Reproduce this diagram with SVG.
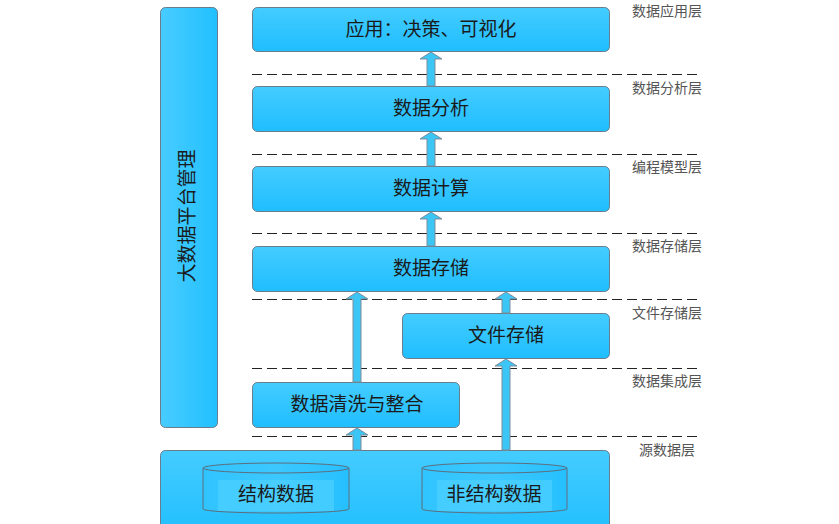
<svg xmlns="http://www.w3.org/2000/svg" width="839" height="524" viewBox="0 0 839 524">
<defs>
<linearGradient id="gv" x1="0" y1="0" x2="0" y2="1">
<stop offset="0" stop-color="#44CCFF"/>
<stop offset="1" stop-color="#1FBEFF"/>
</linearGradient>
<linearGradient id="gh" x1="0" y1="0" x2="1" y2="0">
<stop offset="0" stop-color="#48CCFF"/>
<stop offset="1" stop-color="#22C0FF"/>
</linearGradient>
<linearGradient id="gc" x1="0" y1="0" x2="1" y2="0">
<stop offset="0" stop-color="#30C4FF"/>
<stop offset="0.5" stop-color="#3CC8FF"/>
<stop offset="1" stop-color="#26C0FF"/>
</linearGradient>
</defs>
<style>
.box{fill:url(#gv);stroke:#6B7C8C;stroke-width:1}
.vbox{fill:url(#gh);stroke:#6B7C8C;stroke-width:1}
.t{font-family:"Noto Sans CJK SC","Liberation Sans",sans-serif;font-size:19px;fill:#1A1A1A;text-anchor:middle}
.lbl{font-family:"Noto Sans CJK SC","Liberation Sans",sans-serif;font-size:14px;fill:#555;text-anchor:middle}
.dash{stroke:#222;stroke-width:1;stroke-dasharray:10 5;fill:none}
.arr{fill:#3CC6F6;stroke:#7C8C9A;stroke-width:1}
.cyl{fill:url(#gc);stroke:#5C6E7E;stroke-width:1}
.cylin{fill:#4DD0FF;opacity:0.7}
</style>

<g id="layers">
<line class="dash" x1="252" y1="74.5" x2="700" y2="74.5"/>
<line class="dash" x1="252" y1="154.5" x2="700" y2="154.5"/>
<line class="dash" x1="252" y1="233.5" x2="700" y2="233.5"/>
<line class="dash" x1="252" y1="299.5" x2="700" y2="299.5"/>
<line class="dash" x1="252" y1="368.5" x2="700" y2="368.5"/>
<line class="dash" x1="252" y1="436.5" x2="700" y2="436.5"/>
<text class="lbl" x="667" y="16">数据应用层</text>
<text class="lbl" x="667" y="93">数据分析层</text>
<text class="lbl" x="667" y="172">编程模型层</text>
<text class="lbl" x="667" y="251">数据存储层</text>
<text class="lbl" x="667" y="318">文件存储层</text>
<text class="lbl" x="667" y="386">数据集成层</text>
<text class="lbl" x="667" y="455">源数据层</text>
</g>

<g id="mgmt">
<rect class="vbox" x="160.5" y="7.5" width="57" height="420" rx="5"/>
<text class="t" transform="translate(194,216) rotate(-90)">大数据平台管理</text>
</g>

<g id="app">
<rect class="box" x="252.5" y="7.5" width="357" height="44" rx="5"/>
<text class="t" x="431" y="36">应用：决策、可视化</text>
</g>
<g id="analysis">
<rect class="box" x="252.5" y="86.5" width="357" height="45" rx="5"/>
<text class="t" x="431" y="115">数据分析</text>
</g>
<g id="compute">
<rect class="box" x="252.5" y="166.5" width="357" height="45" rx="5"/>
<text class="t" x="431" y="195">数据计算</text>
</g>
<g id="storage">
<rect class="box" x="252.5" y="246.5" width="357" height="45" rx="5"/>
<text class="t" x="431" y="275">数据存储</text>
</g>
<g id="filestore">
<rect class="box" x="402.5" y="313.5" width="207" height="45" rx="5"/>
<text class="t" x="506" y="342">文件存储</text>
</g>
<g id="clean">
<rect class="box" x="252.5" y="382.5" width="207" height="45" rx="5"/>
<text class="t" x="357" y="411">数据清洗与整合</text>
</g>
<g id="source">
<rect class="box" x="160.5" y="450.5" width="449" height="90" rx="5"/>
</g>
<g id="structured">
<path class="cyl" d="M203,468 A73,5 0 0 1 349,468 L349,509 A73,4 0 0 1 203,509 Z"/>
<path class="cyl" style="fill:none" d="M203,468 A73,5 0 0 0 349,468"/>
<rect class="cylin" x="218" y="480" width="116" height="31"/>
<text class="t" x="276" y="501">结构数据</text>
</g>
<g id="unstructured">
<path class="cyl" d="M422,468 A72.5,5 0 0 1 567,468 L567,509 A72.5,4 0 0 1 422,509 Z"/>
<path class="cyl" style="fill:none" d="M422,468 A72.5,5 0 0 0 567,468"/>
<rect class="cylin" x="437" y="480" width="115" height="31"/>
<text class="t" x="494" y="501">非结构数据</text>
</g>

<g id="connectors">
<polygon class="arr" points="431,52 442,59 435,59 435,86 427,86 427,59 420,59"/>
<polygon class="arr" points="431,132 442,139 435,139 435,166 427,166 427,139 420,139"/>
<polygon class="arr" points="431,212 442,219 435,219 435,246 427,246 427,219 420,219"/>
<polygon class="arr" points="357,292 368,299 361,299 361,382 353,382 353,299 346,299"/>
<polygon class="arr" points="506,292 517,299 510,299 510,313 502,313 502,299 495,299"/>
<polygon class="arr" points="506,359 517,366 510,366 510,450 502,450 502,366 495,366"/>
<polygon class="arr" points="357,428 368,435 361,435 361,450 353,450 353,435 346,435"/>
</g>
</svg>
